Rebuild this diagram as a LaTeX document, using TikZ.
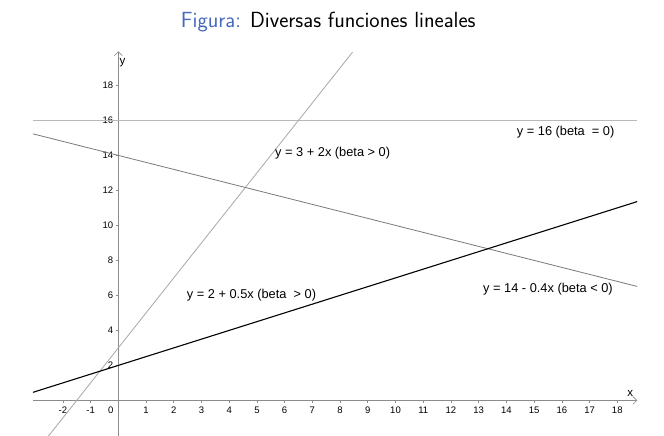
\documentclass[tikz,border=0pt]{standalone}
\usepackage{fontspec}
\setmainfont{Liberation Sans}
\usetikzlibrary{arrows.meta}
\definecolor{beamerblue}{RGB}{70,105,190}
\definecolor{axisgray}{gray}{0.55}
\definecolor{lightline}{gray}{0.72}
\definecolor{midline}{gray}{0.66}
\definecolor{darkline}{gray}{0.48}
\begin{document}
\begin{tikzpicture}[x=1pt,y=1pt,
  axisline/.style={draw=axisgray,line width=0.7pt},
  axarrow/.style={-{Straight Barb[length=4pt,width=8pt,line width=0.6pt]}},
  tickmark/.style={draw=axisgray,line width=0.6pt},
  ticklab/.style={font=\fontsize{9.5}{10}\selectfont,inner sep=0pt},
  eqlab/.style={font=\fontsize{12.8}{15}\selectfont,inner sep=0pt,anchor=west},
  titlefont/.style={font=\sffamily\fontsize{21.9}{26}\selectfont,inner sep=0pt}]
\useasboundingbox (0,0) rectangle (664,436);
\fill[white] (0,0) rectangle (664,436);
% title
\node[titlefont,anchor=base west] (title) at (180.7,408.7) {\textcolor{beamerblue}{Figura:} Diversas funciones lineales};
\begin{scope}[shift={(118.3,35.6)},x=27.72pt,y=17.5pt]
  % axes
  \coordinate (xs) at (-3.08,0);
  \coordinate (xe) at (18.72,0);
  \coordinate (ys) at (0,-2.04);
  \coordinate (ye) at (0,19.95);
  \draw[axisline,axarrow] (xs) -- (xe);
  \draw[axisline,axarrow] (ys) -- (ye);
  \node[font=\fontsize{11.5}{12}\selectfont,inner sep=0pt] (xl) at (18.47,0.4) {x};
  \node[font=\fontsize{11.5}{12}\selectfont,inner sep=0pt] (yl) at (0.15,19.3) {y};
  % x ticks
  \foreach \i in {-2,-1,1,2,...,18}{
    \draw[tickmark] (\i,0) -- (\i,-0.14);
    \node[ticklab] (xt\i) at (\i,-0.55) {\i};
  }
  \node[ticklab] (xt0) at (-0.27,-0.55) {0};
  % y ticks
  \foreach \j in {2,4,...,18}{
    \draw[tickmark] (0,\j) -- (-0.1,\j);
    \node[ticklab,anchor=east] (yt\j) at (-0.18,\j) {\j};
  }
  % lines
  \coordinate (h1) at (-3.08,16);
  \coordinate (h2) at (18.72,16);
  \draw[lightline,line width=0.8pt] (h1) -- (h2);
  \coordinate (s1) at (-2.52,-2.04);
  \coordinate (s2) at (8.45,19.9);
  \draw[midline,line width=0.8pt] (s1) -- (s2);
  \coordinate (n1) at (-3.08,15.232);
  \coordinate (n2) at (18.72,6.512);
  \draw[darkline,line width=0.8pt] (n1) -- (n2);
  \coordinate (p1) at (-3.08,0.46);
  \coordinate (p2) at (18.72,11.36);
  \draw[black,line width=1.1pt] (p1) -- (p2);
\end{scope}
% equation labels
\node[eqlab] (l16) at (516.7,304) {y = 16 (beta \ = 0)};
\node[eqlab] (l3) at (275,283) {y = 3 + 2x (beta > 0)};
\node[eqlab] (l2) at (186.7,141) {y = 2 + 0.5x (beta \ > 0)};
\node[eqlab] (l14) at (483,147) {y = 14 - 0.4x (beta < 0)};
\end{tikzpicture}
\end{document}
